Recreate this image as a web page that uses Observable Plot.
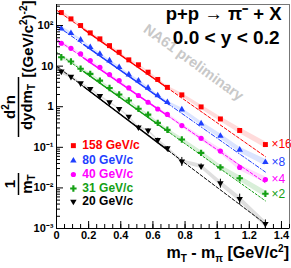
<!DOCTYPE html>
<html><head><meta charset="utf-8">
<script src="https://cdn.jsdelivr.net/npm/d3@7"></script>
<script src="https://cdn.jsdelivr.net/npm/@observablehq/plot@0.6"></script>
<style>
body{margin:0;background:#fff;}
#chart{position:relative;width:291px;height:268px;}
svg{font-family:"Liberation Sans",Arial,Helvetica,sans-serif;}
</style></head><body><div id="chart"></div>
<script>
// ---- data ----
const xBins = [0.03,0.09,0.15,0.21,0.27,0.33,0.39,0.45,0.51,0.57,0.63,0.69,0.78,0.90,1.02,1.14,1.30];
const energyLabels = ["158 GeV/c","80 GeV/c","40 GeV/c","31 GeV/c","20 GeV/c"];
const factorLabels = ["×16","×8","×4","×2",""];
const y158 = [209,146,100,66,47,32,22,14.3,10.8,7.1,4.7,3.0,1.96,0.99,0.50,0.26,0.117];
const y80  = [84,64.6,44.5,29.2,20,13.7,9.4,6.2,4.4,2.92,1.89,1.29,0.85,0.385,0.19,0.087,0.043];
const y40  = [36.6,27.5,20,13.7,9.4,6.2,4.4,2.9,1.89,1.29,0.88,0.645,0.344,0.167,0.081,0.032,0.0160];
const y31  = [16.6,13,8.6,6.45,4.4,2.9,2.0,1.42,0.89,0.64,0.40,0.27,0.156,0.073,0.032,0.0173,0.0072];
const y20  = [7.4,5.5,3.8,2.76,1.84,1.29,0.89,0.57,0.31,0.26,0.153,0.095,0.045,0.034,0.0131,0.0054,0.0013];
const fitAt0   = [240,100,46,22,10];
const fitAt130 = [0.059,0.0246,0.0133,0.0048,0.0013];
const fitX = [0,1.3];
const fitRange = [0.17,0.70];
const sysRel = [0.14,0.08,0.06,0.05,0.05,0.05,0.05,0.05,0.06,0.06,0.07,0.08,0.10,0.12,0.14,0.16,0.18];
const stat158 = [0,0,0,0,0,0,0,0,0,0,0,0,0,0,0,0,0];
const stat80  = [0,0,0,0,0,0,0,0,0,0,0,0,0,0,0,0.08,0.1];
const stat40  = [0,0,0,0,0,0,0,0,0,0,0,0,0,0,0,0.1,0.1];
const stat31  = [0,0,0,0,0,0,0,0,0,0,0,0,0,0,0.1,0.15,0.15];
const stat20  = [0,0,0,0,0,0,0,0,0.12,0.1,0.1,0.1,0.25,0.15,0.25,0.3,0.25];
const legendY = [0.11,0.047,0.0214,0.0097,0.0046];
const legendX = 0.105;
const yTickValues = [1e-3,1e-2,1e-1,1,10,100];
const yTickLabels = ["10⁻³","10⁻²","10⁻¹","1","10","10²"];
const xTickValues = [0,0.2,0.4,0.6,0.8,1,1.2,1.4];
const xTickLabels = ["0","0.2","0.4","0.6","0.8","1","1.2","1.4"];
const watermark = {text:"NA61 preliminary", x:0.853, y:12.3};
const titleLines = ["p+p → π⁻ + X","0.0 < y < 0.2"];

// ---- styles ----
const colors = ["#ff0000","#1f3fff","#ff00ff","#14a014","#000000"];
const bandColors = ["#ffb0b0","#b0c4ff","#ffb0ff","#a8dca8","#b8b8b8"];
const dashes = ["3,2","4,2,1,2","3,2","2,2","3,2"];
const triDown = {draw(ctx, size){const s3=Math.sqrt(3);const y=-Math.sqrt(size/(s3*3));ctx.moveTo(0,-y*2);ctx.lineTo(-s3*y,y);ctx.lineTo(s3*y,y);ctx.closePath();}};
const symbols = ["square","triangle","circle","cross",triDown];
const radii = [2.8,2.4,2.6,2.7,2.4];

const seriesValues = [y158,y80,y40,y31,y20];
const seriesStat = [stat158,stat80,stat40,stat31,stat20];

const minorY = [];
for (let e=-3;e<=2;e++) for (let m=2;m<=9;m++){const v=m*Math.pow(10,e); if(v<=330) minorY.push(v);}
const minorX = d3.range(0,1.4501,0.05).map(v=>+v.toFixed(2));

const marks = [];
seriesValues.forEach((vals,i)=>{
  const pts = xBins.map((x,j)=>({x, lo:vals[j]*(1-sysRel[j]), hi:vals[j]*(1+sysRel[j])}));
  marks.push(Plot.areaY(pts,{x:"x",y1:"lo",y2:"hi",fill:bandColors[i],fillOpacity:0.45,curve:"linear"}));
});
seriesValues.forEach((vals,i)=>{
  const a=fitAt0[i], b=fitAt130[i];
  const f = x => Math.exp(Math.log(a)+(Math.log(b)-Math.log(a))*(x-fitX[0])/(fitX[1]-fitX[0]));
  marks.push(Plot.line(fitX.map(x=>({x,y:f(x)})),{x:"x",y:"y",stroke:colors[i],strokeWidth:1,strokeDasharray:dashes[i]}));
  marks.push(Plot.line(fitRange.map(x=>({x,y:f(x)})),{x:"x",y:"y",stroke:colors[i],strokeWidth:1.5}));
});
seriesValues.forEach((vals,i)=>{
  const pts = xBins.map((x,j)=>({x, y:vals[j], elo:vals[j]*(1-seriesStat[i][j]), ehi:vals[j]*(1+seriesStat[i][j]), e:seriesStat[i][j]}));
  marks.push(Plot.ruleX(pts.filter(d=>d.e>0),{x:"x",y1:"elo",y2:"ehi",stroke:colors[i],strokeWidth:1}));
  marks.push(Plot.dot(pts,{x:"x",y:"y",symbol:symbols[i],r:radii[i],fill:colors[i],stroke:"none"}));
  if (factorLabels[i]) marks.push(Plot.text([pts[pts.length-1]],{x:"x",y:"y",text:()=>factorLabels[i],fill:colors[i],textAnchor:"start",dx:6,fontSize:12}));
  marks.push(Plot.dot([{x:legendX,y:legendY[i]}],{x:"x",y:"y",symbol:symbols[i],r:radii[i],fill:colors[i],stroke:"none"}));
  marks.push(Plot.text([{x:legendX,y:legendY[i]}],{x:"x",y:"y",text:()=>energyLabels[i],fill:colors[i],textAnchor:"start",dx:9,fontSize:12,fontWeight:"bold"}));
});
marks.push(Plot.text([watermark],{x:"x",y:"y",text:"text",rotate:36,fill:"#c8c8c8",fontSize:14.5,fontWeight:"bold"}));
marks.push(Plot.text([titleLines[0]],{frameAnchor:"top-right",dx:-8,dy:10,lineAnchor:"middle",textAnchor:"end",fontSize:18.5,fontWeight:"bold",fill:"#000"}));
marks.push(Plot.text([titleLines[1]],{frameAnchor:"top-right",dx:-10,dy:33,lineAnchor:"middle",textAnchor:"end",fontSize:19,fontWeight:"bold",fill:"#000"}));
marks.push(Plot.frame({stroke:"#777"}));
marks.push(Plot.ruleX([0],{stroke:"#000"}));
marks.push(Plot.ruleY([0.001],{stroke:"#000"}));
marks.push(Plot.axisY(yTickValues,{tickSize:-7,tickPadding:10,tickFormat:d=>yTickLabels[yTickValues.indexOf(d)],fontSize:11,fontWeight:"bold",fill:"#000",label:null}));
marks.push(Plot.axisY(minorY,{tickSize:-4,tickFormat:()=>"",label:null}));
marks.push(Plot.axisX(xTickValues,{tickSize:-7,tickPadding:10,tickFormat:d=>xTickLabels[xTickValues.indexOf(d)],fontSize:11,fontWeight:"bold",fill:"#000",label:null}));
marks.push(Plot.axisX(minorX,{tickSize:-4,tickFormat:()=>"",label:null}));

const plot = Plot.plot({
  width:291, height:268, marginLeft:56, marginRight:2, marginTop:4, marginBottom:40,
  x:{domain:[0,1.45]}, y:{type:"log", domain:[0.001,330]},
  style:{background:"#fff",color:"#000",fontFamily:"'Liberation Sans',Arial,sans-serif"},
  marks
});
document.getElementById("chart").appendChild(plot);

// axis titles with sub/superscripts
const svg = d3.select(plot);
const xt = svg.append("text").attr("x",289).attr("y",258).attr("text-anchor","end")
  .attr("font-size",16).attr("font-weight","bold").attr("fill","#000");
xt.append("tspan").text("m");
xt.append("tspan").attr("dy",4).attr("font-size",10).text("T");
xt.append("tspan").attr("dy",-4).text(" - m");
xt.append("tspan").attr("dy",4).attr("font-size",10).text("π");
xt.append("tspan").attr("dy",-4).text(" [GeV/c");
xt.append("tspan").attr("dy",-6).attr("font-size",10).text("2");
xt.append("tspan").attr("dy",6).text("]");

const g = svg.append("g").attr("transform","rotate(-90)").attr("font-weight","bold").attr("fill","#000");
function frac(cy, num, den){
  const n = g.append("text").attr("x",-cy).attr("y",15).attr("text-anchor","middle").attr("font-size",15);
  num(n);
  const d = g.append("text").attr("x",-cy).attr("y",32).attr("text-anchor","middle").attr("font-size",15);
  den(d);
}
frac(184, t=>t.text("1"), t=>{t.append("tspan").text("m");t.append("tspan").attr("dy",3).attr("font-size",10).text("T");});
g.append("line").attr("x1",-195).attr("x2",-173).attr("y1",18.5).attr("y2",18.5).attr("stroke","#000").attr("stroke-width",1.5);
frac(107, t=>{t.append("tspan").text("d");t.append("tspan").attr("dy",-6).attr("font-size",10).text("2");t.append("tspan").attr("dy",6).text("n");},
          t=>{t.append("tspan").text("dydm");t.append("tspan").attr("dy",3).attr("font-size",10).text("T");});
g.append("line").attr("x1",-137).attr("x2",-77).attr("y1",18.5).attr("y2",18.5).attr("stroke","#000").attr("stroke-width",1.5);
const br = g.append("text").attr("x",-39).attr("y",33).attr("text-anchor","middle").attr("font-size",15);
br.append("tspan").text("[(GeV/c");
br.append("tspan").attr("dy",-6).attr("font-size",10).text("2");
br.append("tspan").attr("dy",6).text(")");
br.append("tspan").attr("dy",-6).attr("font-size",10).text("-2");
br.append("tspan").attr("dy",6).text("]");
</script></body></html>
